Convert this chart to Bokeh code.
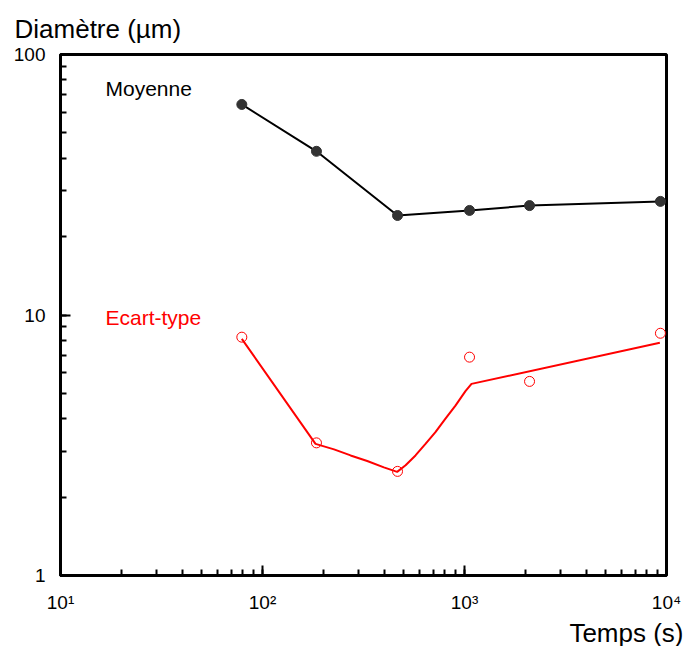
from bokeh.plotting import figure
from bokeh.models import Title, LogTicker
from bokeh.core.properties import value
from bokeh.embed import file_html
from bokeh.resources import INLINE

# Data
temps = [79, 185, 466, 1059, 2099, 9330]
moyenne = [64.3, 42.5, 24.1, 25.2, 26.3, 27.3]
ecart_type = [8.22, 3.23, 2.51, 6.89, 5.56, 8.51]
# fitted curve for the standard deviation
fit_t = [79, 183, 226, 273, 330, 399, 464, 511, 572, 641, 718, 805, 902, 1011, 1083, 9270]
fit_d = [8.1, 3.2, 3.05, 2.89, 2.75, 2.60, 2.50, 2.65, 2.89, 3.20, 3.55, 4.00, 4.49, 5.10, 5.44, 7.82]

x_labels = {10: "10¹", 100: "10²", 1000: "10³", 10000: "10⁴"}
y_labels = {1: "1", 10: "10", 100: "100"}

FONT = "Liberation Sans"

p = figure(width=691, height=646, x_axis_type="log", y_axis_type="log",
           x_range=(10, 10000), y_range=(1, 100),
           output_backend="svg", toolbar_location=None,
           min_border_left=60, min_border_right=25, min_border_top=54,
           min_border_bottom=71, frame_width=606, frame_height=521)

p.grid.visible = False
p.background_fill_color = "white"
p.border_fill_color = "white"
p.outline_line_color = "black"
p.outline_line_width = 3

for ax in (p.xaxis[0], p.yaxis[0]):
    ax.axis_line_width = 3
    ax.axis_line_color = "black"
    ax.major_tick_in = 10
    ax.major_tick_out = 0
    ax.minor_tick_in = 6
    ax.minor_tick_out = 0
    ax.major_tick_line_width = 2
    ax.minor_tick_line_width = 2
    ax.major_label_text_font = FONT
    ax.major_label_text_font_size = "19px"
    ax.major_label_text_color = "black"

p.xaxis.ticker = LogTicker(num_minor_ticks=10)
p.xaxis.major_label_overrides = x_labels
p.xaxis.major_label_standoff = 16
p.yaxis.ticker = LogTicker(num_minor_ticks=10)
p.yaxis.major_label_overrides = y_labels
p.yaxis.major_label_standoff = 15

# Series
p.line(temps, moyenne, line_color="black", line_width=2)
p.scatter(temps, moyenne, size=10, fill_color="#333333", line_color="#333333")
p.line(fit_t, fit_d, line_color="red", line_width=2)
p.scatter(temps, ecart_type, size=10, fill_color=None, line_color="red", line_width=1)

p.text(x=[16.7], y=[74.1], text=["Moyenne"], text_font=value(FONT),
       text_font_size="21px", text_color="black", text_baseline="middle", text_align="left")
p.text(x=[16.7], y=[9.8], text=["Ecart-type"], text_font=value(FONT),
       text_font_size="21px", text_color="red", text_baseline="middle", text_align="left")

# axis titles
p.title.text = "Diamètre (µm)"
p.title.align = "left"
p.title.offset = -46
p.title.standoff = 22
p.title.text_font = FONT
p.title.text_font_size = "26px"
p.title.text_font_style = "normal"
p.title.text_color = "black"

p.add_layout(Title(text="Temps (s)", align="right", offset=-17, standoff=0, text_font=FONT,
                   text_font_size="26px", text_font_style="normal", text_color="black"), "below")

open("out.html", "w").write(file_html(p, INLINE))
